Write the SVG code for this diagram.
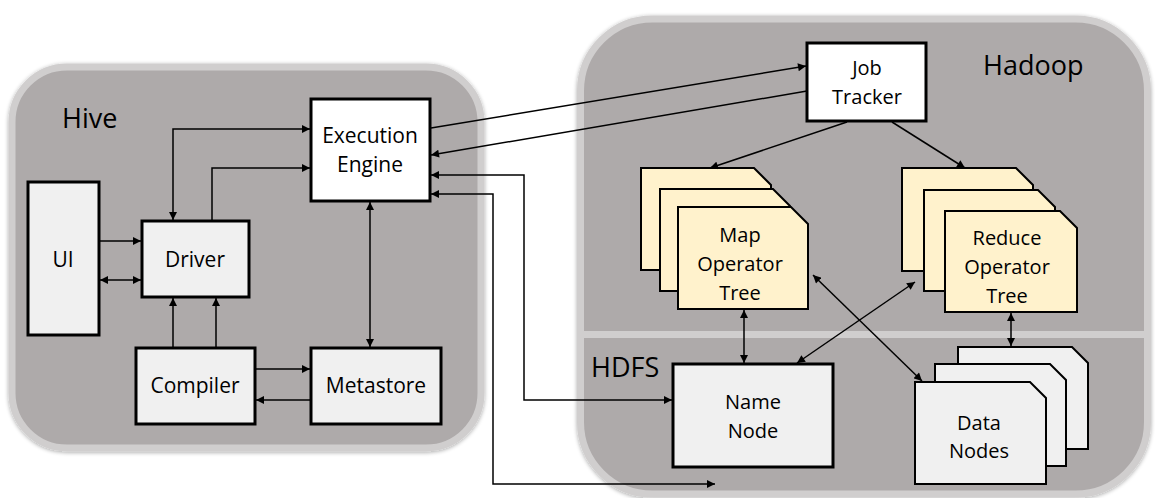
<svg xmlns="http://www.w3.org/2000/svg" width="1155" height="498" viewBox="0 0 1155 498">
<defs>
<filter id="sh" x="-5%" y="-5%" width="110%" height="110%">
<feGaussianBlur in="SourceAlpha" stdDeviation="2"/>
<feOffset dx="0" dy="1" result="b"/>
<feComponentTransfer><feFuncA type="linear" slope="0.35"/></feComponentTransfer>
<feMerge><feMergeNode/><feMergeNode in="SourceGraphic"/></feMerge>
</filter>
<marker id="ah" viewBox="0 0 10 10" refX="10" refY="5" markerWidth="9" markerHeight="8" markerUnits="userSpaceOnUse" orient="auto-start-reverse">
<path d="M0,0 L10,5 L0,10 Z" fill="#000"/>
</marker>
</defs>
<style>
.cont{fill:#aeaaaa;stroke:#d0cece;stroke-width:7}
.box{fill:#f0f0f0;stroke:#000;stroke-width:3}
.wbox{fill:#fff;stroke:#000;stroke-width:3}
.card{fill:#fff2cc;stroke:#000;stroke-width:2}
.dcard{fill:#f0f0f0;stroke:#000;stroke-width:2}
.t{font-family:"Open Sans","Noto Sans",sans-serif;font-size:21px;fill:#000;text-anchor:middle}
.ts{font-family:"Open Sans","Noto Sans",sans-serif;font-size:20px;fill:#000;text-anchor:middle}
.big{font-family:"Open Sans","Noto Sans",sans-serif;font-size:27px;fill:#000}
.c{fill:none;stroke:#000;stroke-width:1.5}
.e{marker-end:url(#ah)}
.b{marker-start:url(#ah);marker-end:url(#ah)}
</style>

<g id="hive">
<rect class="cont" x="12" y="67" width="469" height="381" rx="55" filter="url(#sh)"/>
<text class="big" x="62" y="128">Hive</text>
</g>
<g id="hadoop">
<rect class="cont" x="580.5" y="19" width="567" height="475" rx="72" filter="url(#sh)"/>
<rect x="584" y="331" width="562" height="7" fill="#d0cece"/>
<text class="big" x="983" y="75">Hadoop</text>
<text class="big" x="591" y="377">HDFS</text>
</g>

<g id="ui">
<rect class="box" x="28" y="182" width="71" height="153"/>
<text class="t" x="63" y="267">UI</text>
</g>
<g id="driver">
<rect class="box" x="142" y="221" width="107" height="76"/>
<text class="t" x="195" y="267">Driver</text>
</g>
<g id="compiler">
<rect class="box" x="136" y="348" width="119" height="76"/>
<text class="t" x="195" y="393">Compiler</text>
</g>
<g id="metastore">
<rect class="box" x="311" y="348" width="130" height="76"/>
<text class="t" x="376" y="393">Metastore</text>
</g>
<g id="exec">
<rect class="wbox" x="311" y="99" width="119" height="102"/>
<text class="t" x="370" y="143">Execution</text>
<text class="t" x="370" y="172">Engine</text>
</g>
<g id="jobtracker">
<rect class="wbox" x="807" y="43" width="119" height="78"/>
<text class="ts" x="867" y="75">Job</text>
<text class="ts" x="867" y="104">Tracker</text>
</g>
<g id="map">
<path class="card" d="M641,168 H754 L771,185 V270 H641 Z"/>
<path class="card" d="M660,189 H773 L790,206 V291 H660 Z"/>
<path class="card" d="M678,207 H791 L808,224 V309 H678 Z"/>
<text class="ts" x="740" y="242">Map</text>
<text class="ts" x="740" y="271">Operator</text>
<text class="ts" x="740" y="300">Tree</text>
</g>
<g id="reduce">
<path class="card" d="M902,168 H1016 L1033,185 V271 H902 Z"/>
<path class="card" d="M924,190 H1038 L1055,207 V291 H924 Z"/>
<path class="card" d="M945,211 H1060 L1077,228 V312 H945 Z"/>
<text class="ts" x="1007" y="245">Reduce</text>
<text class="ts" x="1007" y="274">Operator</text>
<text class="ts" x="1007" y="303">Tree</text>
</g>
<g id="namenode">
<rect class="box" x="673" y="364" width="160" height="103"/>
<text class="ts" x="753" y="409">Name</text>
<text class="ts" x="753" y="438">Node</text>
</g>
<g id="datanodes">
<path class="dcard" d="M958,347 H1072 L1088,363 V449 H958 Z"/>
<path class="dcard" d="M935,364 H1050 L1066,380 V466 H935 Z"/>
<path class="dcard" d="M915,382 H1030 L1046,398 V484 H915 Z"/>
<text class="ts" x="979" y="430">Data</text>
<text class="ts" x="979" y="458">Nodes</text>
</g>

<g id="connectors">
<path class="c e" d="M99,241 H141"/>
<path class="c b" d="M100,280 H141"/>
<path class="c e" d="M173,348 V298"/>
<path class="c e" d="M216,348 V298"/>
<path class="c b" d="M173,220 V129 H310"/>
<path class="c e" d="M212,221 V168 H310"/>
<path class="c b" d="M370,202 V347"/>
<path class="c e" d="M255,369 H310"/>
<path class="c e" d="M311,400 H256"/>
<path class="c e" d="M431,128 L806,66"/>
<path class="c e" d="M807,91 L431,155"/>
<path class="c b" d="M431,175 H524 V400 H672"/>
<path class="c b" d="M431,194 H493 V484 H715"/>
<path class="c e" d="M847,122 L710,168"/>
<path class="c e" d="M892,122 L965,168"/>
<path class="c b" d="M744,310 V363"/>
<path class="c b" d="M797,363 L915,282"/>
<path class="c b" d="M813,275 L922,381"/>
<path class="c b" d="M1011,313 V346"/>
</g>
</svg>
